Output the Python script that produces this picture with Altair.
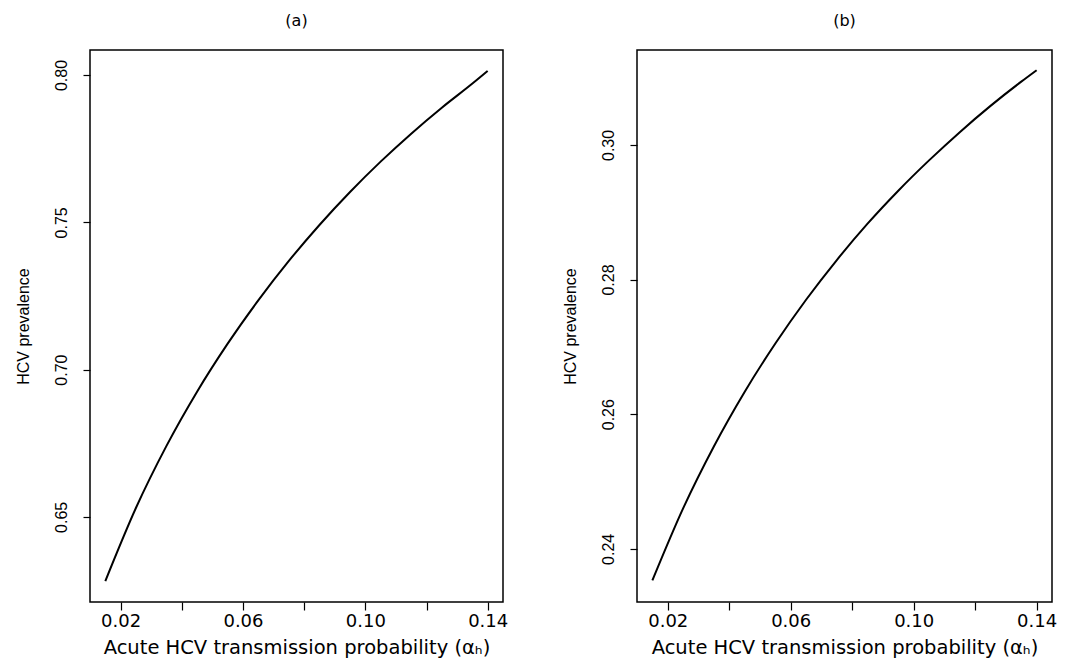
import altair as alt
import pandas as pd

# ---- data ----
x_a = [0.015, 0.025, 0.035, 0.045, 0.055, 0.065, 0.075, 0.085, 0.095, 0.105, 0.115, 0.125, 0.135, 0.14]
y_a = [0.6282, 0.6530, 0.6741, 0.6925, 0.7088, 0.7235, 0.7369, 0.7491, 0.7603, 0.7706,
       0.7801, 0.7889, 0.7971, 0.8014]

x_b = [0.015, 0.025, 0.035, 0.045, 0.055, 0.065, 0.075, 0.085, 0.095, 0.105, 0.115, 0.125, 0.135, 0.14]
y_b = [0.2353, 0.2460, 0.2552, 0.2633, 0.2705, 0.2770, 0.2829, 0.2883, 0.2932, 0.2977,
       0.3019, 0.3058, 0.3094, 0.3111]

x_ticks = [0.02, 0.04, 0.06, 0.08, 0.10, 0.12, 0.14]
x_tick_labels = ["0.02", "0.06", "0.10", "0.14"]
y_ticks_a = [0.65, 0.70, 0.75, 0.80]
y_ticks_b = [0.24, 0.26, 0.28, 0.30]
x_domain = [0.01, 0.145]
y_domain_a = [0.6211, 0.8085]
y_domain_b = [0.2321, 0.3141]
titles = ["(a)", "(b)"]
x_title = "Acute HCV transmission probability (\u03b1\u2095)"
y_title = "HCV prevalence"

H_FONT = "DejaVu Sans"
V_FONT = "Liberation Sans"

label_expr = "indexof([" + ",".join("'%s'" % s for s in x_tick_labels) + "], datum.label) >= 0 ? datum.label : ''"


def panel(xs, ys, ydom, yticks, title, width):
    df = pd.DataFrame({"x": xs, "y": ys})
    return (
        alt.Chart(
            df,
            title=alt.TitleParams(
                text=title, font=H_FONT, fontSize=16, fontWeight="normal",
                anchor="middle", baseline="middle", offset=13, color="black",
            ),
        )
        .mark_line(color="black", strokeWidth=2, interpolate="monotone")
        .encode(
            x=alt.X(
                "x:Q",
                scale=alt.Scale(domain=x_domain, nice=False, zero=False),
                axis=alt.Axis(
                    values=x_ticks, format=".2f", labelExpr=label_expr, grid=False,
                    domain=False,
                    title=x_title, titleFont=H_FONT, titleFontSize=19.5,
                    titleFontWeight="normal", titleColor="black",
                    titleBaseline="middle", titleY=45, titleX=width / 2,
                    labelFont=H_FONT, labelFontSize=18, labelColor="black",
                    labelBaseline="middle", labelPadding=11, tickSize=8,
                    tickColor="black", tickWidth=1.2,
                    labelOverlap=False, labelFlush=False,
                ),
            ),
            y=alt.Y(
                "y:Q",
                scale=alt.Scale(domain=ydom, nice=False, zero=False),
                axis=alt.Axis(
                    values=yticks, format=".2f", grid=False, domain=False,
                    title=y_title, titleFont=V_FONT, titleFontSize=16,
                    titleFontWeight="normal", titleColor="black",
                    titleAngle=270, titleBaseline="middle", titleAlign="center",
                    titleX=-67, titleY=276,
                    labelFont=V_FONT, labelFontSize=16, labelColor="black",
                    labelAngle=270, labelAlign="center", labelBaseline="middle",
                    labelPadding=22, tickSize=7, tickColor="black", tickWidth=1.2,
                    labelOverlap=False, labelFlush=False,
                ),
            ),
        )
        .properties(width=width, height=552)
    )


pa = panel(x_a, y_a, y_domain_a, y_ticks_a, titles[0], 413)
pb = panel(x_b, y_b, y_domain_b, y_ticks_b, titles[1], 415)

chart = (
    alt.hconcat(pa, pb, spacing=52)
    .properties(padding={"left": 14, "top": 12, "right": 5, "bottom": 0},
                background="white")
    .configure_view(stroke="black", strokeWidth=1.5, fill="white")
)

chart.save("out.html", embed_options={"renderer": "svg", "actions": False})
